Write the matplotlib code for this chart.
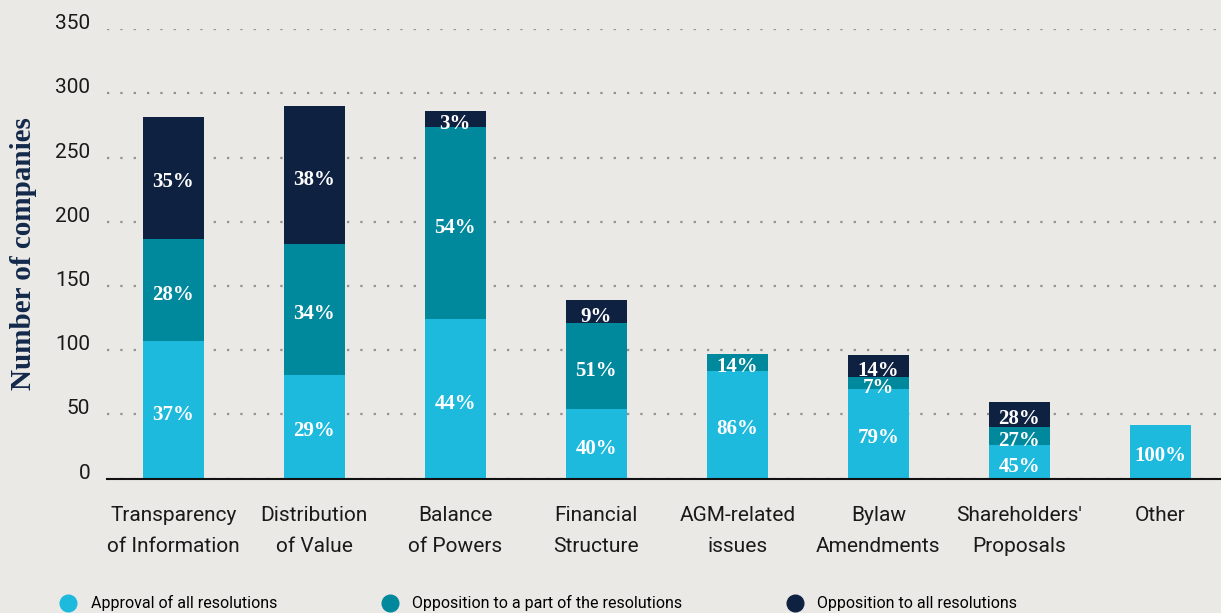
import matplotlib
matplotlib.use("Agg")
import matplotlib.pyplot as plt
from matplotlib.lines import Line2D
import numpy as np

# companies per theme, split by voting outcome
categories = ["Transparency\nof Information", "Distribution\nof Value", "Balance\nof Powers",
              "Financial\nStructure", "AGM-related\nissues", "Bylaw\nAmendments",
              "Shareholders'\nProposals", "Other"]
approval = [107, 81, 124, 54, 84, 70, 26, 42]
partial = [80, 102, 150, 67, 13, 9, 14, 0]
opposition = [95, 107, 12, 18, 0, 17, 20, 0]

pct_approval = ["37%", "29%", "44%", "40%", "86%", "79%", "45%", "100%"]
pct_partial = ["28%", "34%", "54%", "51%", "14%", "7%", "27%", ""]
pct_opposition = ["35%", "38%", "3%", "9%", "", "14%", "28%", ""]

series_names = ["Approval of all resolutions", "Opposition to a part of the resolutions",
                "Opposition to all resolutions"]
colors = ["#1dbade", "#00889c", "#0f2141"]
BG = "#ebe9e6"

fig = plt.figure(figsize=(12.21, 6.13), dpi=100, facecolor=BG)
ax = fig.add_axes([0.0876, 0.2194, 0.9124, 0.7328])
ax.set_facecolor(BG)

x = np.arange(len(categories))
width = 0.43
bottom = np.zeros(len(categories))
for vals, labels, col in zip([approval, partial, opposition],
                             [pct_approval, pct_partial, pct_opposition], colors):
    vals = np.array(vals, dtype=float)
    ax.bar(x, vals, width, bottom=bottom, color=col, zorder=2)
    for xi, b, v, lab in zip(x, bottom, vals, labels):
        if lab:
            ax.annotate(lab, (xi, b + v / 2), xytext=(0, -3.5), textcoords="offset points",
                        ha="center", va="center", color="white", fontsize=15,
                        fontweight="bold", family="Liberation Serif", zorder=3)
    bottom += vals

ax.set_xlim(-0.47, len(categories) - 0.57)
ax.set_ylim(0, 350)
ax.set_yticks(range(0, 351, 50))
ax.set_xticks(x)
ax.set_xticklabels(categories, fontsize=15, family="Roboto", color="#1a1a1a", linespacing=1.78)
for lbl in ax.get_yticklabels():
    lbl.set_fontsize(15)
    lbl.set_family("Roboto")
    lbl.set_color("#1a1a1a")
    lbl.set_va("baseline")
ax.tick_params(axis="y", length=0, pad=12)
ax.tick_params(axis="x", length=0, pad=20)

ax.grid(axis="y", color="#8f8f8f", linestyle=(0, (1, 5)), linewidth=1.6, zorder=0)
for s in ["left", "right", "top"]:
    ax.spines[s].set_visible(False)
ax.spines["bottom"].set_color("#111111")
ax.spines["bottom"].set_linewidth(1.5)
ax.spines["bottom"].set_zorder(4)

fig.text(0.019, 0.586, "Number of companies", rotation=90, ha="center", va="center",
         fontsize=21, fontweight="bold", family="Liberation Serif", color="#13294b")

handles = [Line2D([], [], marker="o", linestyle="none", markersize=12, color=c) for c in colors]
fig.legend(handles, series_names, loc="center left", bbox_to_anchor=(0.0495, 0.016), ncol=3,
           frameon=False, prop={"family": "Roboto", "size": 11.5}, handletextpad=0.9,
           handlelength=1.0, columnspacing=6.55, borderaxespad=0, borderpad=0)

fig.savefig("out.png", dpi=100, facecolor=BG)
